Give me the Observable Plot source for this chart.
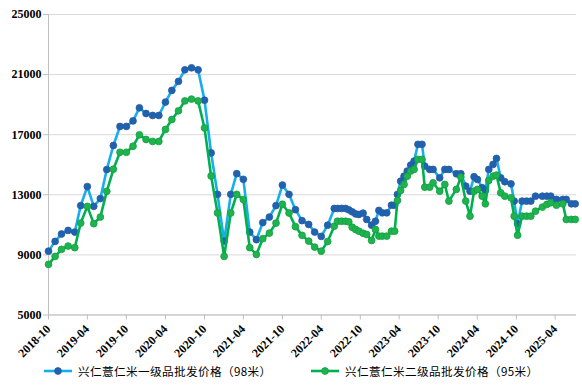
<!DOCTYPE html>
<html>
<head>
<meta charset="utf-8">
<script src="https://cdn.jsdelivr.net/npm/d3@7"></script>
<script src="https://cdn.jsdelivr.net/npm/@observablehq/plot@0.6"></script>
<style>
  html, body { margin: 0; padding: 0; background: #fff; }
  #chart { width: 582px; }
  svg g[aria-label="x-axis tick"] path, svg g[aria-label="y-axis tick"] path { stroke: #bfbfbf; }
  .legend { position: relative; width: 582px; height: 31px; font-family: "Noto Sans CJK SC", sans-serif; font-size: 11.6px; letter-spacing: 0.4px; color: #000; }
  .item { position: absolute; top: 3px; display: flex; align-items: center; white-space: nowrap; }
  .item svg { margin-right: 6px; }
</style>
</head>
<body>
<div id="chart"></div>
<script>
const seriesNames = ["兴仁薏仁米一级品批发价格（98米）", "兴仁薏仁米二级品批发价格（95米）"];
const seriesLine = ["#17aeee", "#00b050"];
const seriesDot = ["#1f62b2", "#1fb34d"];
const seriesDotStroke = ["#2a5c9c", "#12a043"];

const dates = [
  "2018-10-01","2018-11-01","2018-12-01",
  "2019-01-01","2019-02-01","2019-03-01","2019-04-01","2019-05-01","2019-06-01","2019-07-01","2019-08-01","2019-09-01","2019-10-01","2019-11-01","2019-12-01",
  "2020-01-01","2020-02-01","2020-03-01","2020-04-01","2020-05-01","2020-06-01","2020-07-01","2020-08-01","2020-09-01","2020-10-01","2020-11-01","2020-12-01",
  "2021-01-01","2021-02-01","2021-03-01","2021-04-01","2021-05-01","2021-06-01","2021-07-01","2021-08-01","2021-09-01","2021-10-01","2021-11-01","2021-12-01",
  "2022-01-01","2022-02-01","2022-03-01","2022-04-01","2022-05-01","2022-06-01",
  "2022-06-16","2022-07-05","2022-07-24","2022-08-08","2022-08-24","2022-09-09","2022-09-24","2022-10-14","2022-10-31","2022-11-23","2022-12-11","2022-12-27",
  "2023-01-12","2023-02-02","2023-02-24","2023-03-11","2023-03-24","2023-04-08","2023-04-24","2023-05-09","2023-05-25","2023-06-10","2023-06-28","2023-07-17","2023-07-30","2023-08-22","2023-09-07","2023-10-08","2023-11-01","2023-11-20","2023-12-25",
  "2024-01-15","2024-02-07","2024-02-27","2024-03-17","2024-04-02","2024-04-24","2024-05-09","2024-05-25","2024-06-14","2024-06-30","2024-07-20","2024-08-08","2024-09-06","2024-09-21","2024-10-07","2024-10-28","2024-11-18","2024-12-08","2024-12-30",
  "2025-01-31","2025-02-21","2025-03-11","2025-04-07","2025-05-07","2025-05-23","2025-06-16","2025-07-04"
];

const price98 = [
  9250, 9900, 10390,
  10630, 10520, 12280, 13550, 12230, 12750, 14680, 16280, 17550, 17550, 17920, 18790,
  18410, 18280, 18280, 19170, 19950, 20550, 21320, 21450, 21320, 19300, 15790, 13030,
  9920, 13030, 14410, 14030, 10520, 10010, 11150, 11520, 12280, 13650, 13030, 12010,
  11280, 11030, 10520, 10230, 10980, 12090,
  12090, 12090, 12090, 12000, 11870, 11730, 11690, 11780, 11360, 10980, 11240, 11960,
  11800, 11800, 12310, 12310, 13020, 13910, 14240, 14580, 14980, 15240, 16360, 16360, 14910, 14690, 14690, 14130, 14690, 14690, 14400,
  14400, 13580, 13240, 14200, 14020, 13470, 13290, 14690, 15020, 15420, 14130, 13870, 13730, 12580, 11070, 12580, 12580, 12580, 12910,
  12910, 12910, 12910, 12690, 12690, 12690, 12400, 12400
];

const price95 = [
  8370, 8900, 9370,
  9590, 9480, 11120, 12230, 11080, 11520, 13230, 14700, 15830, 15830, 16230, 16990,
  16680, 16550, 16550, 17350, 18010, 18590, 19250, 19370, 19250, 17450, 14250, 11790,
  8900, 11790, 13030, 12680, 9480, 9030, 10080, 10450, 11120, 12370, 11790, 10880,
  10300, 9920, 9520, 9250, 9890, 10910,
  11240, 11240, 11240, 11200, 10840, 10690, 10580, 10440, 10360, 9960, 10690, 10250,
  10250, 10250, 10580, 10580, 12620, 13290, 13690, 14240, 14580, 14690, 15360, 15360, 13510, 13510, 13800, 13240, 13690, 12580, 13360,
  14180, 12580, 11580, 13240, 13360, 12910, 12400, 13960, 14240, 14310, 13130, 12910, 12800, 11580, 10310, 11580, 11580, 11580, 11910,
  12180, 12360, 12470, 12310, 12400, 11360, 11360, 11360
];

const xTickLabels = ["2018-10","2019-04","2019-10","2020-04","2020-10","2021-04","2021-10","2022-04","2022-10","2023-04","2023-10","2024-04","2024-10","2025-04"];
const yTicks = [5000, 9000, 13000, 17000, 21000, 25000];
const xDomain = ["2018-10-01", "2025-07-10"];

const parse = d3.utcParse("%Y-%m-%d");
const data = dates.map((d, i) => ({date: parse(d), v98: price98[i], v95: price95[i]}));
const xTicks = xTickLabels.map(s => parse(s + "-01"));

const chart = Plot.plot({
  width: 582,
  height: 360,
  marginLeft: 48,
  marginRight: 6,
  marginTop: 14,
  marginBottom: 45.5,
  style: {fontFamily: "'Liberation Serif', serif", fontSize: "12px", fontWeight: "bold", color: "#000", background: "#fff"},
  x: {type: "utc", domain: xDomain.map(parse)},
  y: {domain: [yTicks[0], yTicks[yTicks.length - 1]]},
  marks: [
    Plot.gridY(yTicks, {stroke: "#d9d9d9", strokeOpacity: 1}),
    Plot.ruleY([yTicks[0]], {stroke: "#bfbfbf"}),
    Plot.ruleX([parse(xDomain[0])], {stroke: "#bfbfbf"}),
    Plot.axisY({ticks: yTicks, tickFormat: d => String(d), tickSize: 5, tickPadding: 2, label: null}),
    Plot.axisX({ticks: xTicks, tickFormat: d3.utcFormat("%Y-%m"), tickRotate: -45, tickSize: 5, tickPadding: 7, label: null}),
    Plot.line(data, {x: "date", y: "v98", stroke: seriesLine[0], strokeWidth: 2.6}),
    Plot.dot(data, {x: "date", y: "v98", r: 3.4, fill: seriesDot[0], stroke: seriesDotStroke[0], strokeWidth: 0.8}),
    Plot.line(data, {x: "date", y: "v95", stroke: seriesLine[1], strokeWidth: 2.6}),
    Plot.dot(data, {x: "date", y: "v95", r: 3.4, fill: seriesDot[1], stroke: seriesDotStroke[1], strokeWidth: 0.8})
  ]
});
document.getElementById("chart").appendChild(chart);

const legend = document.createElement("div");
legend.className = "legend";
const lefts = [44, 311];
seriesNames.forEach((name, i) => {
  const item = document.createElement("div");
  item.className = "item";
  item.style.left = lefts[i] + "px";
  item.innerHTML = `<svg width="28" height="10"><line x1="0" y1="5" x2="28" y2="5" stroke="${seriesLine[i]}" stroke-width="2.6"/><circle cx="14" cy="5" r="3.4" fill="${seriesDot[i]}" stroke="${seriesDotStroke[i]}" stroke-width="0.8"/></svg><span>${name}</span>`;
  legend.appendChild(item);
});
document.getElementById("chart").appendChild(legend);
</script>
</body>
</html>
